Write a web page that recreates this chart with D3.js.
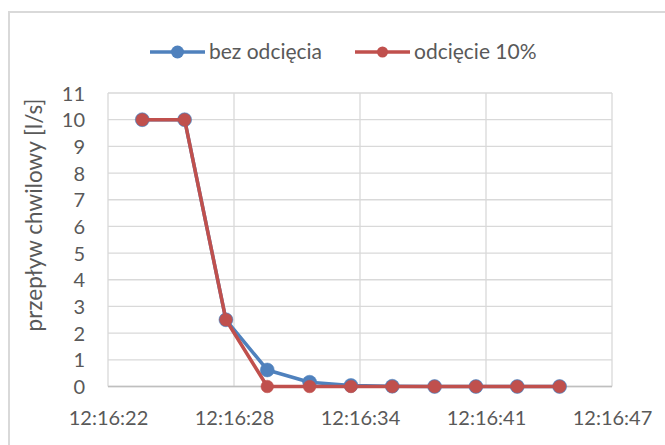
<!DOCTYPE html>
<html><head><meta charset="utf-8">
<script src="https://cdn.jsdelivr.net/npm/d3@7"></script>
<style>body{margin:0;background:#fff}svg{display:block}text{font-family:Lato,"Open Sans",sans-serif;fill:#595959}</style>
</head><body><div id="c"></div>
<script>
// seconds after 12:16:00
const times = [23.7, 25.8, 27.85, 29.9, 32.0, 34.05, 36.1, 38.2, 40.25, 42.3, 44.4];
const bezOdciecia = [10, 10, 2.5, 0.62, 0.16, 0.04, 0.01, 0, 0, 0, 0];
const odciecie10 = [10, 10, 2.5, 0, 0, 0, 0, 0, 0, 0, 0];
const xTickVals = [22, 28.25, 34.5, 40.75, 47];
const xTickLabels = ["12:16:22", "12:16:28", "12:16:34", "12:16:41", "12:16:47"];
const yTicks = [0,1,2,3,4,5,6,7,8,9,10,11];
const seriesNames = ["bez odcięcia", "odcięcie 10%"];
const colors = ["#4f81bd", "#c0504d"];

const W = 665, H = 445;
const svg = d3.select("#c").append("svg").attr("width", W).attr("height", H);
svg.append("rect").attr("x", 9).attr("y", 12).attr("width", 700).attr("height", 500)
  .attr("fill", "#fff").attr("stroke", "#d9d9d9").attr("stroke-width", 2);

const x = d3.scaleLinear().domain([22, 47]).range([108, 612]);
const y = d3.scaleLinear().domain([0, 11]).range([386.5, 93]);

// gridlines
svg.append("g").selectAll("line").data(yTicks).join("line")
  .attr("x1", 108).attr("x2", 612).attr("y1", d => y(d)).attr("y2", d => y(d))
  .attr("stroke", "#d9d9d9").attr("stroke-width", 1.3);
svg.append("g").selectAll("line").data(xTickVals).join("line")
  .attr("x1", d => x(d)).attr("x2", d => x(d)).attr("y1", y(11)).attr("y2", y(0))
  .attr("stroke", "#d9d9d9").attr("stroke-width", 1.3);
svg.append("line").attr("x1", 108).attr("x2", 612).attr("y1", y(0)).attr("y2", y(0))
  .attr("stroke", "#bfbfbf").attr("stroke-width", 1.5);

// y axis
const ya = d3.axisLeft(y).tickValues(yTicks).tickSize(0).tickPadding(23);
const yg = svg.append("g").attr("transform", "translate(108,0)").call(ya);
yg.select(".domain").remove();
yg.selectAll("text").style("font-size", "20px").attr("fill", "#595959").attr("font-family", "Lato,sans-serif").attr("dy", "0.35em");

// x axis
const xa = d3.axisBottom(x).tickValues(xTickVals).tickSize(0).tickPadding(24)
  .tickFormat((d, i) => xTickLabels[i]);
const xg = svg.append("g").attr("transform", `translate(0,${y(0)})`).call(xa);
xg.select(".domain").remove();
xg.selectAll("text").style("font-size", "20px").attr("fill", "#595959").attr("font-family", "Lato,sans-serif");

// y title
svg.append("text").attr("transform", "translate(42,215) rotate(-90)")
  .attr("text-anchor", "middle").style("font-size", "22.5px").text("przepływ chwilowy [l/s]");

const line = d3.line().x((d, i) => x(times[i])).y(d => y(d));
const data = [bezOdciecia, odciecie10];
const radii = [7, 6.3];
data.forEach((s, k) => {
  svg.append("path").datum(s).attr("d", line).attr("fill", "none")
    .attr("stroke", colors[k]).attr("stroke-width", 3.5).attr("stroke-linejoin", "round");
  svg.append("g").selectAll("circle").data(s).join("circle")
    .attr("cx", (d, i) => x(times[i])).attr("cy", d => y(d)).attr("r", radii[k])
    .attr("fill", colors[k]).attr("stroke", colors[k]).attr("stroke-width", 0.5);
});

// legend
const legX = [150, 355];
const legR = [6.5, 5.5];
seriesNames.forEach((n, k) => {
  const g = svg.append("g").attr("transform", `translate(${legX[k]},52)`);
  g.append("line").attr("x1", 0).attr("x2", 55).attr("stroke", colors[k]).attr("stroke-width", 3.5);
  g.append("circle").attr("cx", 27.5).attr("r", legR[k]).attr("fill", colors[k]);
  g.append("text").attr("x", 59).attr("dy", "0.35em").style("font-size", "21px").text(n);
});
</script></body></html>
